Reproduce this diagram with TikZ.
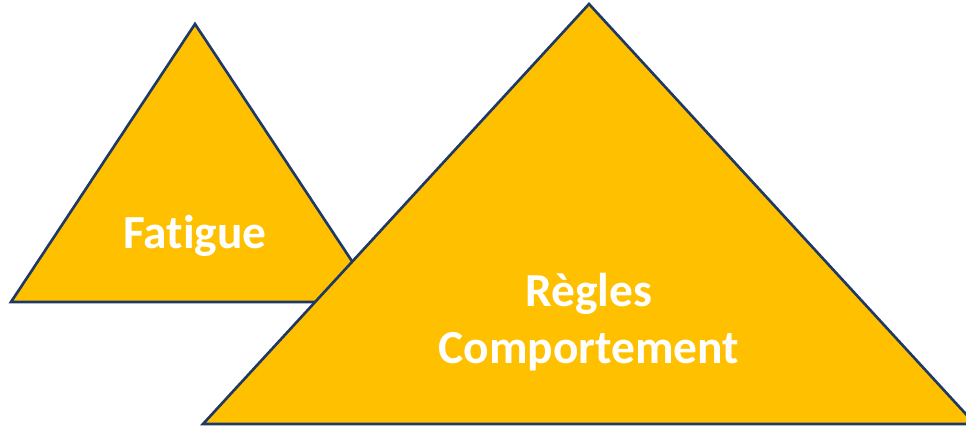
\documentclass[tikz,border=0pt]{standalone}
\usepackage{fontspec}
\setmainfont[Ligatures=NoCommon]{Carlito}
\usepackage{tikz}

\definecolor{gold}{HTML}{FFC000}
\definecolor{navy}{HTML}{203864}

\begin{document}
\begin{tikzpicture}[x = .02cm, y = -.02cm,
  tri/.style = {fill = gold, draw = navy, line width = 1.5pt, line join = miter},
  lbl/.style = {text = white, font = \fontsize{27}{32}\selectfont\bfseries, align = center}]
  \useasboundingbox (0, 0) rectangle (966, 428);
  \begin{scope}
  \clip (0, 0) rectangle (966, 428);
  \draw[tri] (195, 24) -- (379, 302) -- (11, 302) -- cycle;
  \draw[tri] (589, 4) -- (975, 424) -- (203, 424) -- cycle;
  \end{scope}
  \node[lbl] at (195, 236) (fatigue) {Fatigue};
  \node[lbl] at (589, 322) (regles) {Règles\\Comportement};
\end{tikzpicture}
\end{document}
